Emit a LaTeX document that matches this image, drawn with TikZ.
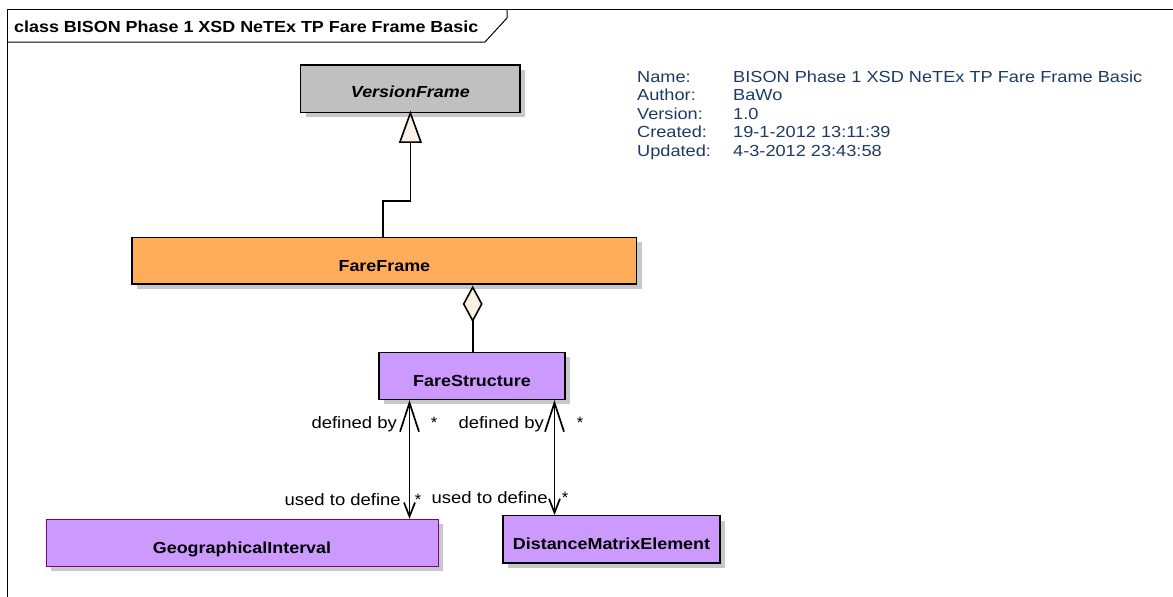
\documentclass[tikz,border=0pt]{standalone}
\usepackage{fontspec}
\setmainfont{Liberation Sans}
\usetikzlibrary{arrows.meta,shadows}
\definecolor{orangeF}{RGB}{255,173,91}
\definecolor{purpleF}{RGB}{204,153,255}
\definecolor{grayF}{RGB}{192,192,192}
\definecolor{creamF}{RGB}{250,240,228}
\definecolor{metaC}{RGB}{30,58,100}
\definecolor{shadowC}{RGB}{200,200,200}
\definecolor{giBorder}{RGB}{128,0,128}
\newcommand{\hstr}[1]{\scalebox{1.12}[1]{#1}}
\newcommand{\mstr}[1]{\scalebox{1.136}[1]{#1}}
\begin{document}
\begin{tikzpicture}[x=1pt,y=-1pt,
  cls/.style={draw=black, line width=1.4pt, inner sep=0pt,
    font=\fontsize{16}{18}\selectfont\bfseries, text height=21pt, text depth=0pt,
    drop shadow={shadow xshift=5pt, shadow yshift=-5pt, fill=shadowC, opacity=1}},
  conn/.style={draw=black, line width=1.7pt},
  assoc/.style={conn, {Straight Barb[length=29pt,width=19pt,line width=1.7pt]}-{Straight Barb[length=14pt,width=11pt,line width=1.7pt]}},
  lbl/.style={inner sep=0pt, font=\fontsize{16.5}{18}\selectfont},
  meta/.style={inner sep=0pt, anchor=base west, text=metaC, font=\fontsize{16}{18}\selectfont},
  hollow/.style={draw=black, line width=1.6pt, fill=creamF, line join=miter}
]
\useasboundingbox (0,0) rectangle (1173,597);
% outer frame
\draw[line width=1pt] (7,600) -- (7,9) -- (1180,9);
\draw[line width=1pt] (7,42) -- (485,42) -- (507,18) -- (507,9);
\node[inner sep=0pt, anchor=base west, font=\fontsize{16}{18}\selectfont\bfseries] (title) at (14,32.3) {\hstr{class BISON Phase 1 XSD NeTEx TP Fare Frame Basic}};

% metadata
\node[meta] (n1) at (637,82) {\mstr{Name:}};
\node[meta] (n2) at (637,100.5) {\mstr{Author:}};
\node[meta] (n3) at (637,119) {\mstr{Version:}};
\node[meta] (n4) at (637,137.5) {\mstr{Created:}};
\node[meta] (n5) at (637,156) {\mstr{Updated:}};
\node[meta] (v1) at (733,82) {\mstr{BISON Phase 1 XSD NeTEx TP Fare Frame Basic}};
\node[meta] (v2) at (733,100.5) {\mstr{BaWo}};
\node[meta] (v3) at (733,119) {\mstr{1.0}};
\node[meta] (v4) at (733,137.5) {\mstr{19-1-2012 13:11:39}};
\node[meta] (v5) at (733,156) {\mstr{4-3-2012 23:43:58}};

% classes
\node[cls, fill=grayF, minimum width=219.3pt, minimum height=47.3pt, text height=18pt, font=\fontsize{16}{18}\selectfont\bfseries\itshape] (vf) at (410.4,88.7) {\hstr{VersionFrame}};
\node[cls, fill=orangeF, minimum width=504.7pt, minimum height=46.7pt] (ff) at (384.4,260.7) {\hstr{FareFrame}};
\node[cls, fill=purpleF, minimum width=186pt, minimum height=47pt] (fs) at (472,375.8) {\hstr{FareStructure}};
\node[cls, fill=purpleF, draw=giBorder, line width=1pt, minimum width=392pt, minimum height=46.7pt] (gi) at (242,542.7) {\hstr{GeographicalInterval}};
\node[cls, fill=purpleF, minimum width=217pt, minimum height=47.3pt] (dme) at (611.5,539.4) {\hstr{DistanceMatrixElement}};

% generalization
\coordinate (g0) at (382.7,237.3);
\coordinate (g1) at (410.4,142);
\draw[conn] (g0) |- (g1 |- 0,200.7) -- (g1);
\draw[hollow] (vf.south) -- ++(10.5,29) -- ++(-21,0) -- cycle;

% aggregation
\coordinate (d0) at (472.7,320);
\draw[conn] (fs.north -| d0) -- (d0);
\draw[hollow] (ff.south -| d0) ++(0,2.5) -- ++(9,16.7) -- ++(-9,16.7) -- ++(-9,-16.7) -- cycle;

% associations
\draw[assoc] (fs.south -| 409.5,0) -- (gi.north -| 409.5,0);
\draw[assoc] (fs.south -| 554.5,0) -- (dme.north -| 554.5,0);

\node[lbl, anchor=base east] (l1) at (397,428) {\hstr{defined by}};
\node[lbl, anchor=base] (l2) at (434,428) {*};
\node[lbl, anchor=base east] (l3) at (544,428) {\hstr{defined by}};
\node[lbl, anchor=base] (l4) at (580,428) {*};
\node[lbl, anchor=base east] (l5) at (401,505) {\hstr{used to define}};
\node[lbl, anchor=base] (l6) at (418,505) {*};
\node[lbl, anchor=base east] (l7) at (548,503) {\hstr{used to define}};
\node[lbl, anchor=base] (l8) at (565,503) {*};
\end{tikzpicture}
\end{document}
